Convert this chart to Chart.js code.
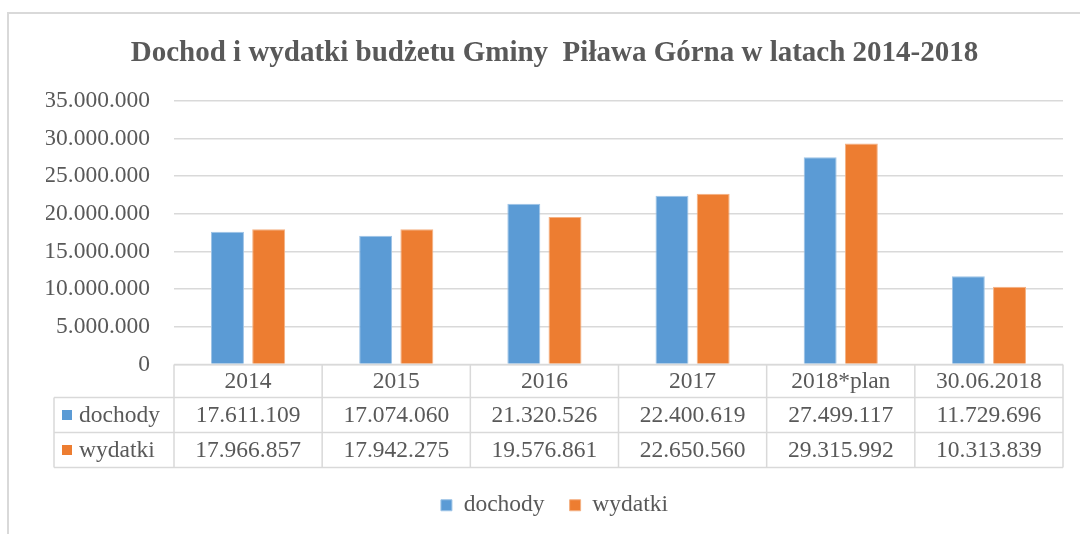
<!DOCTYPE html>
<html>
<head>
<meta charset="utf-8">
<script src="https://cdn.jsdelivr.net/npm/chart.js@4.4.1/dist/chart.umd.min.js"></script>
<style>
  html, body { margin: 0; padding: 0; background: #ffffff; }
  #wrap { position: relative; width: 1080px; height: 534px; overflow: hidden; }
  #frame { position: absolute; left: 7px; top: 12px; width: 1100px; height: 600px;
           border-top: 2px solid #d9d9d9; border-left: 2px solid #d9d9d9; }
  canvas { position: absolute; left: 0; top: 0; }
</style>
</head>
<body>
<div id="wrap">
  <div id="frame"></div>
  <canvas id="c" width="1080" height="534"></canvas>
</div>
<script>
const titleText = 'Dochod i wydatki budżetu Gminy  Piława Górna w latach 2014-2018';
const categories = ['2014', '2015', '2016', '2017', '2018*plan', '30.06.2018'];
const seriesNames = ['dochody', 'wydatki'];
const dochody = [17611109, 17074060, 21320526, 22400619, 27499117, 11729696];
const wydatki = [17966857, 17942275, 19576861, 22650560, 29315992, 10313839];
const yTicks = [0, 5000000, 10000000, 15000000, 20000000, 25000000, 30000000, 35000000];

const FONT = '"Liberation Serif", "Times New Roman", serif';
const TEXT = '#595959';
const GRID = '#d9d9d9';
const COLORS = ['#5b9bd5', '#ed7d31'];
const BORDERS = ['#9dc3e6', '#f4b183'];

function fmt(v) {
  return String(Math.round(v)).replace(/\B(?=(\d{3})+(?!\d))/g, '.');
}

const tablePlugin = {
  id: 'dataTable',
  afterDraw(chart) {
    const { ctx, chartArea } = chart;
    const x = chart.scales.x;
    const n = categories.length;
    const w = (chartArea.right - chartArea.left) / n;
    const top = chartArea.bottom;
    const rows = [top, top + 33, top + 68, top + 103];
    const labelLeft = chartArea.left - 120;
    const values = [dochody, wydatki];
    ctx.save();
    ctx.strokeStyle = GRID;
    ctx.lineWidth = 1.5;
    ctx.beginPath();
    ctx.moveTo(chartArea.left, rows[0]); ctx.lineTo(chartArea.right, rows[0]);
    for (let r = 1; r < rows.length; r++) {
      ctx.moveTo(labelLeft, rows[r]); ctx.lineTo(chartArea.right, rows[r]);
    }
    for (let i = 0; i <= n; i++) {
      const bx = x.getPixelForValue(0) - w / 2 + i * w;
      ctx.moveTo(bx, rows[0]); ctx.lineTo(bx, rows[3]);
    }
    ctx.moveTo(labelLeft, rows[1]); ctx.lineTo(labelLeft, rows[3]);
    ctx.stroke();

    ctx.fillStyle = TEXT;
    ctx.font = '23.5px ' + FONT;
    ctx.textAlign = 'center';
    ctx.textBaseline = 'middle';
    for (let i = 0; i < n; i++) {
      const cx = x.getPixelForValue(i);
      ctx.fillText(categories[i], cx, (rows[0] + rows[1]) / 2 + 1);
      for (let s = 0; s < 2; s++) {
        ctx.fillText(fmt(values[s][i]), cx, (rows[s + 1] + rows[s + 2]) / 2 + 1);
      }
    }
    ctx.textAlign = 'left';
    for (let s = 0; s < 2; s++) {
      const cy = (rows[s + 1] + rows[s + 2]) / 2;
      ctx.fillStyle = COLORS[s];
      ctx.fillRect(labelLeft + 8, cy - 5, 10, 10);
      ctx.fillStyle = TEXT;
      ctx.fillText(seriesNames[s], labelLeft + 25, cy + 1);
    }
    ctx.restore();
  }
};

new Chart(document.getElementById('c'), {
  type: 'bar',
  data: {
    labels: categories,
    datasets: [
      { label: seriesNames[0], data: dochody, backgroundColor: COLORS[0], borderColor: BORDERS[0], borderWidth: 1,
        barPercentage: 0.8, categoryPercentage: 0.556 },
      { label: seriesNames[1], data: wydatki, backgroundColor: COLORS[1], borderColor: BORDERS[1], borderWidth: 1,
        barPercentage: 0.8, categoryPercentage: 0.556 }
    ]
  },
  options: {
    responsive: false,
    animation: false,
    devicePixelRatio: 1,
    layout: { padding: { left: 46, right: 17, top: 0, bottom: 7 } },
    plugins: {
      title: {
        display: true, text: titleText, color: TEXT,
        font: { family: FONT, size: 29, weight: 'bold' },
        padding: { top: 36, bottom: 30 }
      },
      legend: {
        position: 'bottom',
        labels: { boxWidth: 11, boxHeight: 11, color: TEXT, padding: 25,
                  font: { family: FONT, size: 23.5 } }
      },
      tooltip: { enabled: false }
    },
    scales: {
      x: {
        grid: { display: false }, border: { display: false },
        ticks: { display: false },
        afterFit(scale) { scale.height = 104; }
      },
      y: {
        min: 0, max: 35000000,
        afterBuildTicks(scale) { scale.ticks = yTicks.map(v => ({ value: v })); },
        afterFit(scale) { scale.width = 128; },
        grid: { color: GRID, lineWidth: 1.5, drawTicks: false },
        border: { display: false },
        ticks: { color: TEXT, padding: 24, font: { family: FONT, size: 23.5 }, callback: v => fmt(v) }
      }
    }
  },
  plugins: [tablePlugin]
});
</script>
</body>
</html>
